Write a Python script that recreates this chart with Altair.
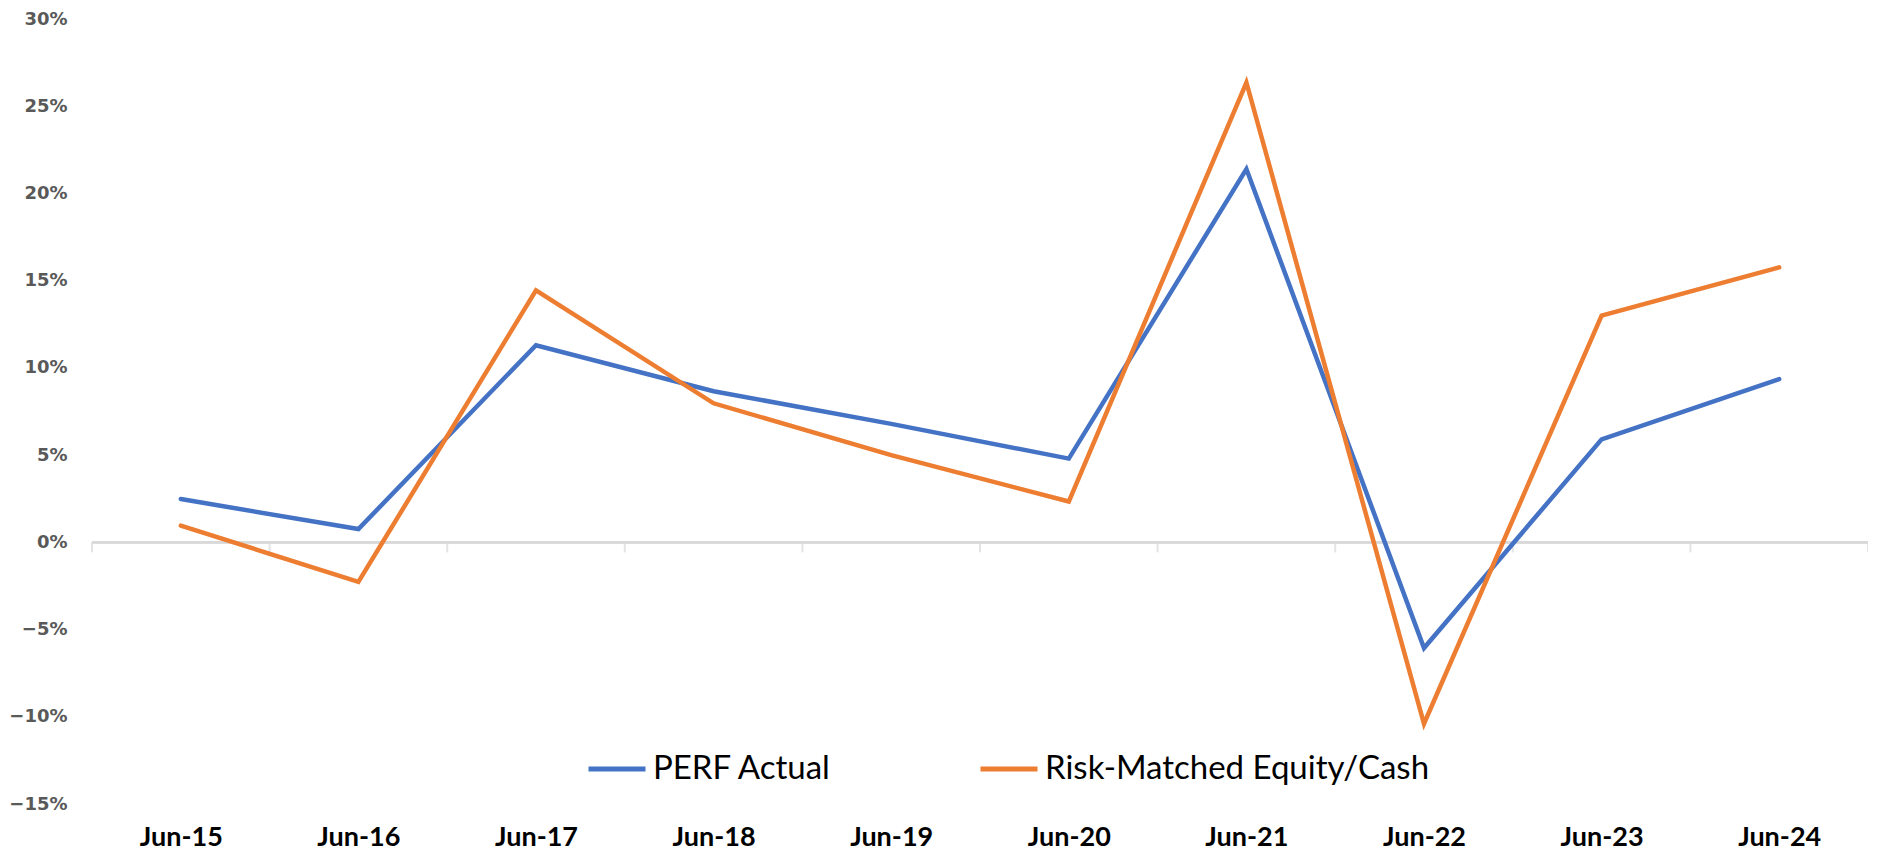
import altair as alt
import pandas as pd

categories = ["Jun-15", "Jun-16", "Jun-17", "Jun-18", "Jun-19",
              "Jun-20", "Jun-21", "Jun-22", "Jun-23", "Jun-24"]
perf_actual = [0.0248, 0.0076, 0.1130, 0.0866, 0.0679,
               0.0480, 0.2140, -0.0606, 0.0590, 0.0936]
risk_matched = [0.0096, -0.0227, 0.1445, 0.0797, 0.0500,
                0.0234, 0.2636, -0.1040, 0.1300, 0.1576]
series_names = ["PERF Actual", "Risk-Matched Equity/Cash"]
series_colors = ["#4472C4", "#ED7D31"]
y_ticks = [-0.15, -0.10, -0.05, 0.0, 0.05, 0.10, 0.15, 0.20, 0.25, 0.30]

rows = []
for name, vals in zip(series_names, [perf_actual, risk_matched]):
    for i, (c, v) in enumerate(zip(categories, vals)):
        rows.append({"series": name, "idx": i, "cat": c, "value": v})
df = pd.DataFrame(rows)

n = len(categories)
bounds = pd.DataFrame({"b": [k - 0.5 for k in range(n + 1)], "zero": 0.0})

label_expr = "[" + ",".join(f"'{c}'" for c in categories) + "][datum.value]"

xscale = alt.Scale(domain=[-0.5, n - 0.5], nice=False, zero=False)
yscale = alt.Scale(domain=[-0.15, 0.30], nice=False, zero=False)

lines = alt.Chart(df).mark_line(strokeWidth=4.5, strokeCap="round", strokeJoin="miter").encode(
    x=alt.X("idx:Q", scale=xscale,
            axis=alt.Axis(values=list(range(n)), labelExpr=label_expr, title=None,
                          domain=False, ticks=False, tickSize=0, grid=False,
                          labelPadding=41, labelBaseline="alphabetic",
                          labelFont="Lato", labelFontSize=27, labelFontWeight="bold",
                          labelColor="#000000", labelFlush=False, labelOverlap=False)),
    y=alt.Y("value:Q", scale=yscale,
            axis=alt.Axis(values=y_ticks, format=".0%", title=None, domain=False,
                          ticks=False, tickSize=0, grid=False, labelPadding=25,
                          labelFont="DejaVu Sans", labelFontSize=18, labelFontWeight="bold",
                          labelColor="#595959", labelBaseline="middle")),
    color=alt.Color("series:N",
                    scale=alt.Scale(domain=series_names, range=series_colors),
                    legend=alt.Legend(orient="none", direction="horizontal", title=None,
                                      legendX=494, legendY=719,
                                      symbolType="stroke", symbolSize=3249,
                                      symbolStrokeWidth=5, labelOffset=5,
                                      labelFont="Lato", labelFontSize=33,
                                      labelColor="#000000", labelLimit=1000,
                                      columnPadding=138, padding=0)),
)

baseline = alt.Chart(bounds).mark_rule(color="#D9D9D9", strokeWidth=2).encode(
    y=alt.Y("zero:Q", scale=yscale)
)

ticks = alt.Chart(bounds).mark_tick(color="#D9D9D9", thickness=2, size=10,
                                    orient="vertical", yOffset=5).encode(
    x=alt.X("b:Q", scale=xscale),
    y=alt.Y("zero:Q", scale=yscale),
)

chart = alt.layer(baseline, ticks, lines).properties(
    width=1776, height=785,
    autosize=alt.AutoSizeParams(type="none"),
    padding={"left": 84, "top": 11, "right": 0, "bottom": 47},
    background="white",
).configure_view(stroke=None)

chart.save("out.html", embed_options={"renderer": "svg", "actions": False})
